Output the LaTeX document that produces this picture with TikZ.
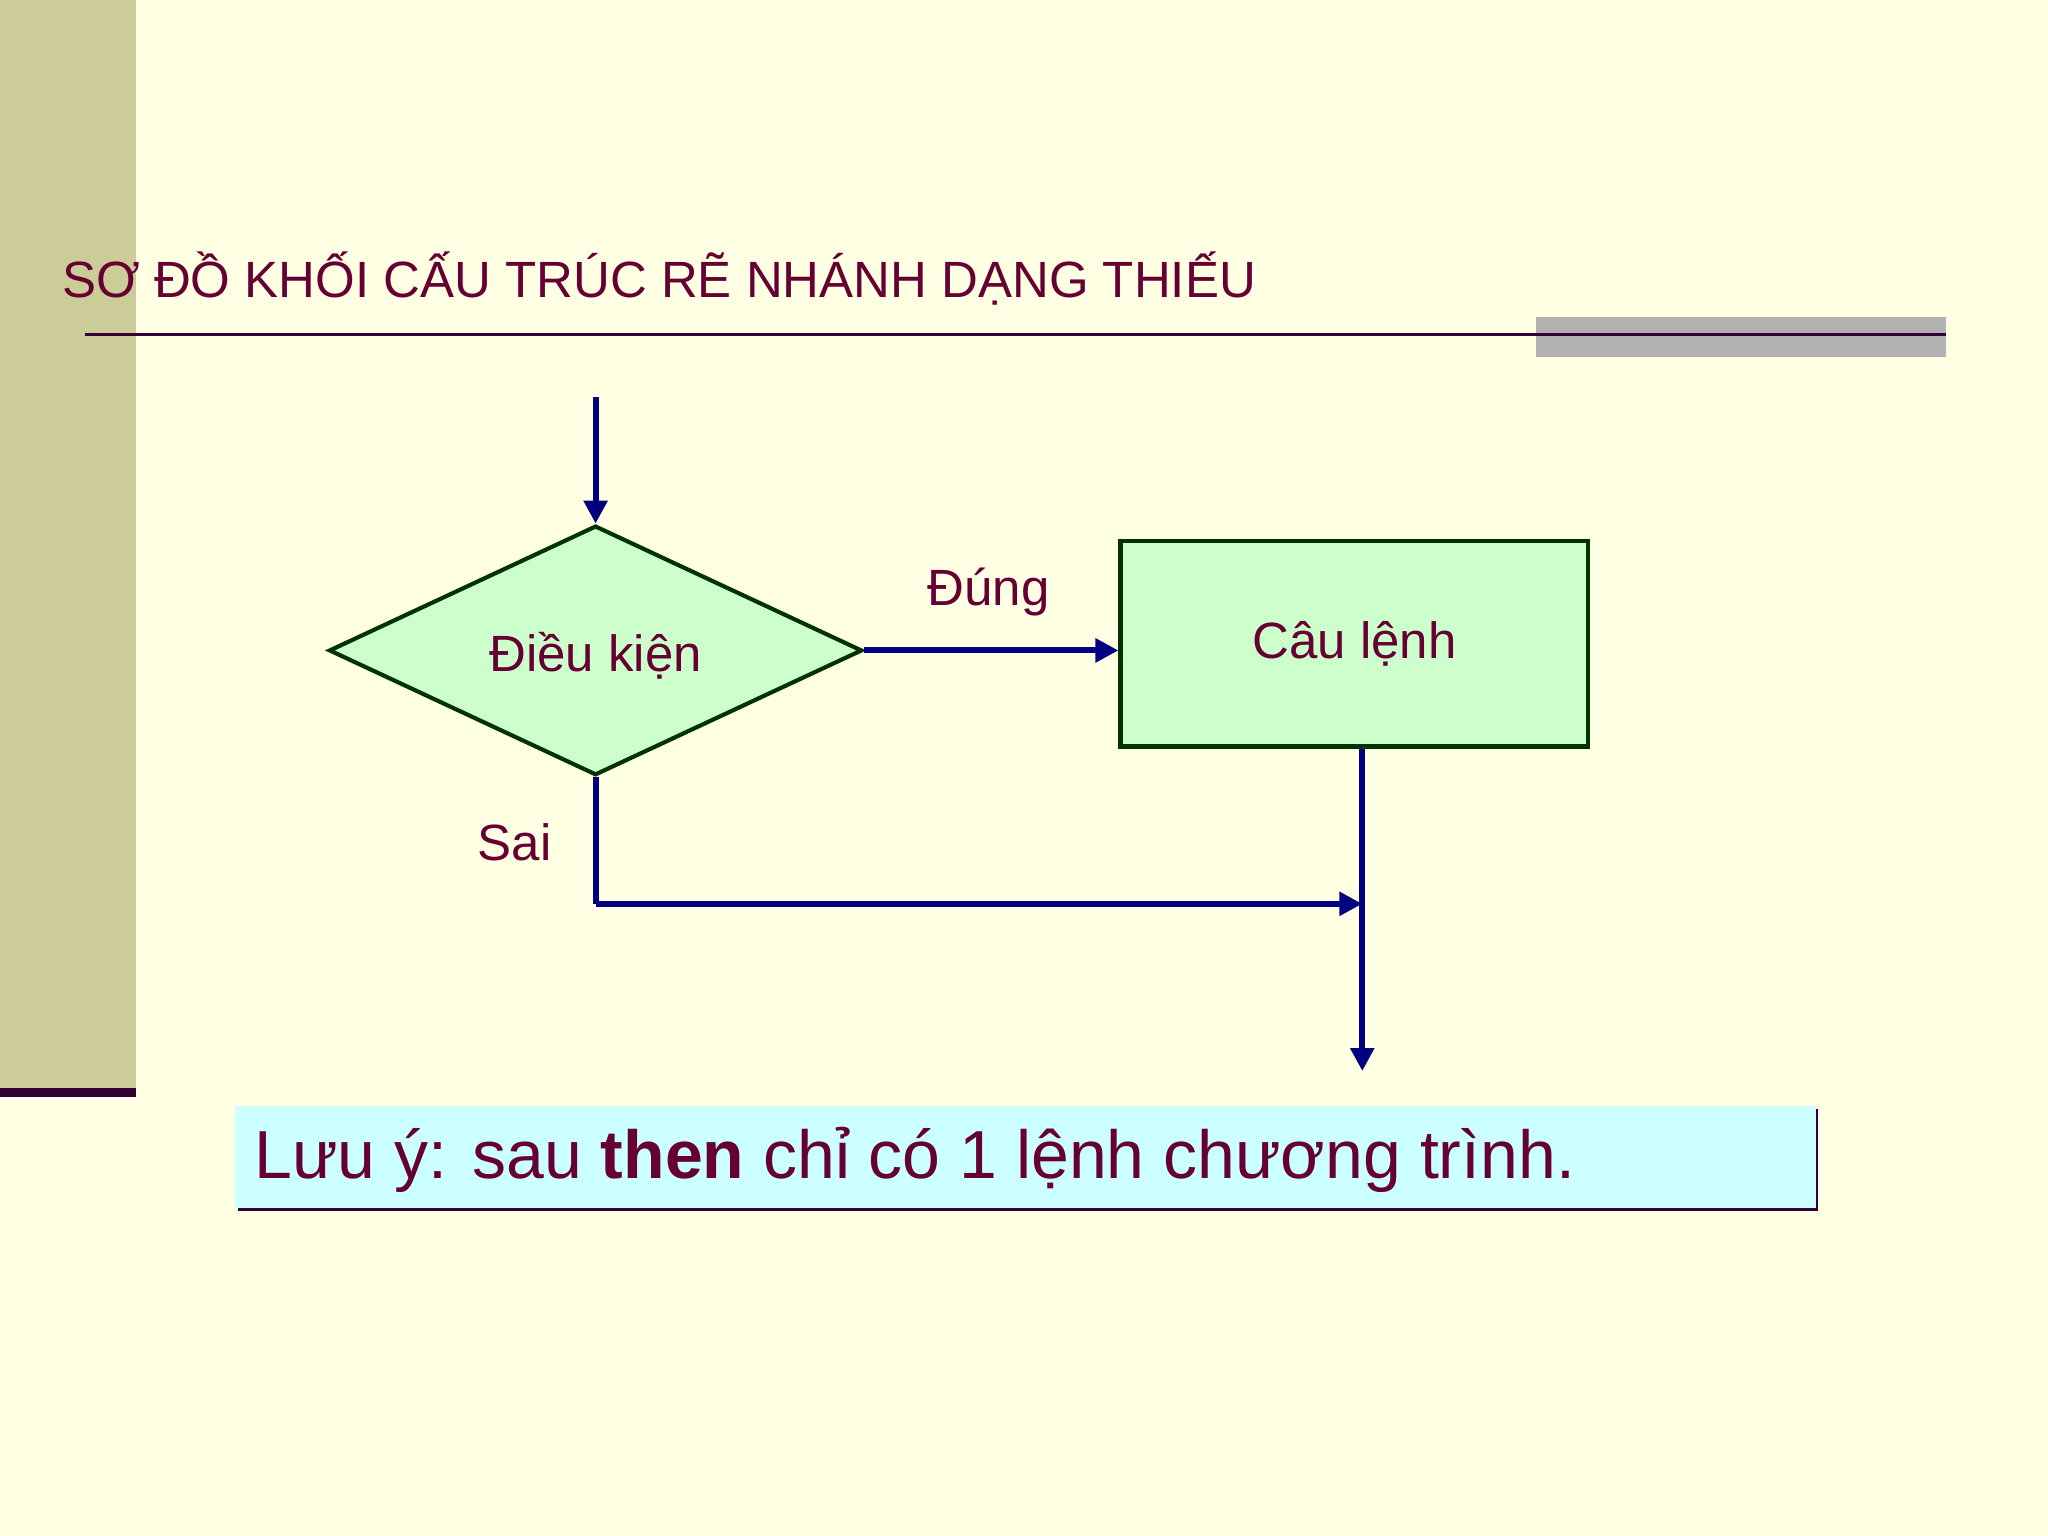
\documentclass[tikz,border=0pt]{standalone}
\usepackage{fontspec}
\setmainfont{Liberation Sans}
\usetikzlibrary{shapes.geometric,arrows.meta}
\definecolor{bg}{HTML}{FFFFE3}
\definecolor{side}{HTML}{CCCC99}
\definecolor{maroon}{HTML}{660033}
\definecolor{dpurple}{HTML}{330033}
\definecolor{navyc}{HTML}{000080}
\definecolor{dgreen}{HTML}{003300}
\definecolor{lgreen}{HTML}{CCFFCC}
\definecolor{lcyan}{HTML}{CCFFFF}
\tikzset{
 flow/.style={draw=navyc,line width=1.3pt},
 arr/.style={flow,-{Triangle[length=5pt,width=5pt]}},
 lbl/.style={text=maroon,font=\fontsize{11.1}{13}\selectfont,inner sep=0pt},
}
\begin{document}
\begin{tikzpicture}[x=0.01cm,y=-0.01cm]
\fill[bg] (0,0) rectangle (1568,1176);
\useasboundingbox (0,0) rectangle (1568,1176);
\fill[side] (0,0) rectangle (104,833);
\fill[dpurple] (0,833) rectangle (104,840);
\fill[gray!60] (1176,243) rectangle (1490,273);
\draw[dpurple,line width=0.8pt] (65,256) -- (1490,256);
\node[lbl,anchor=base west,font=\fontsize{11.1}{13}\selectfont] (title) at (47,228) {SƠ ĐỒ KHỐI CẤU TRÚC RẼ NHÁNH DẠNG THIẾU};
\node[diamond,draw=dgreen,fill=lgreen,line width=0.9pt,inner sep=0pt,
  minimum width=4.08cm,minimum height=1.91cm,aspect=2.14] (d) at (456,498) {};
\node[lbl] at (456,502) {Điều kiện};
\node[draw=dgreen,fill=lgreen,line width=0.9pt,minimum width=3.58cm,minimum height=1.57cm,inner sep=0pt,lbl] (s) at (1037,493) {Câu lệnh};
\coordinate (top) at (456,304);
\draw[arr] (top) -- (d.north);
\draw[arr] (d.east) -- (s.west |- d.east);
\node[lbl] (dung) at (757,453) {Đúng};
\node[lbl] (sai) at (394,645) {Sai};
\coordinate (c1) at (456,692);
\coordinate (j) at (1043,692);
\coordinate (e) at (1043,820);
\draw[flow] (d.south) -- (c1);
\draw[arr] (c1) -- (j);
\draw[arr] (s.south -| j) -- (e);
\fill[dpurple] (182,849) rectangle (1392,927);
\node[fill=lcyan,minimum width=12.1cm,minimum height=0.78cm,inner sep=0pt] (note) at (785,886) {};
\node[lbl,anchor=west,font=\fontsize{14.8}{18}\selectfont] (nt) at (194,888) {Lưu ý: sau \textbf{then} chỉ có 1 lệnh chương trình.};
\end{tikzpicture}
\end{document}
